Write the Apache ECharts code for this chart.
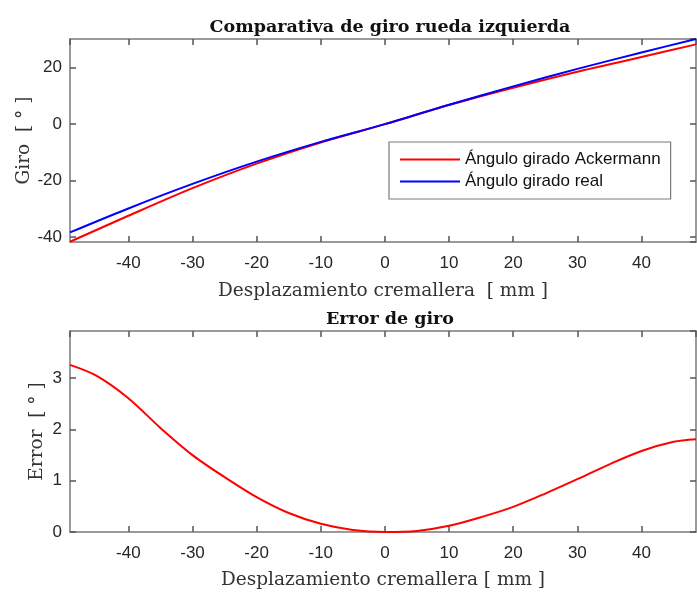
<!DOCTYPE html>
<html>
<head>
<meta charset="utf-8">
<script src="https://cdn.jsdelivr.net/npm/echarts@6/dist/echarts.min.js"></script>
<style>
html,body{margin:0;padding:0;background:#fff;}
#main{width:697px;height:592px;}
</style>
</head>
<body>
<div id="main"></div>
<script>
// ---- data ----
var titleTop = 'Comparativa de giro rueda izquierda';
var titleBottom = 'Error de giro';
var xName = 'Desplazamiento cremallera  [ mm ]';
var xNameBottom = 'Desplazamiento cremallera [ mm ]';
var yNameTop = 'Giro  [ ° ]';
var yNameBottom = 'Error  [ ° ]';
var legendNames = ['Ángulo girado Ackermann', 'Ángulo girado real'];

var xGiro = [-49.1, -40, -30, -20, -10, 0, 10, 20, 30, 40, 48.5];
var giroAckermann = [-41.7, -32.5, -22.7, -14.0, -6.5, 0, 6.8, 12.9, 18.6, 23.8, 28.3];
var giroReal = [-38.4, -29.9, -21.2, -13.3, -6.3, 0, 6.9, 13.4, 19.6, 25.4, 30.2];

var xError = [-49.1, -45, -40, -35, -30, -25, -20, -15, -10, -5, 0, 5, 10, 15, 20, 25, 30, 35, 40, 45, 48.5];
var errorGiro = [3.26, 3.05, 2.61, 2.03, 1.50, 1.07, 0.68, 0.37, 0.16, 0.04, 0, 0.02, 0.12, 0.29, 0.49, 0.75, 1.03, 1.32, 1.58, 1.76, 1.81];

var xMin = -49.1, xMax = 48.5, xSplit = 10;
var yTopMin = -41.8, yTopMax = 30.2, yTopSplit = 4;
var yBotMin = 0, yBotMax = 3.92, yBotSplit = 4;

function pairs(xs, ys) { return xs.map(function (x, i) { return [x, ys[i]]; }); }

var axisGray = '#7a7a7a';
var labelColor = '#262626';
var sans = 'Liberation Sans, Arial, sans-serif';
var serif = 'DejaVu Serif, serif';

function axisBase(mn, mx, split, showLabels, margin, name, gap) {
  return {
    type: 'value', min: mn, max: mx, splitNumber: split,
    name: name || '', nameLocation: 'middle', nameGap: gap || 30,
    nameTextStyle: { fontFamily: serif, fontSize: 18.5, color: '#333' },
    axisLine: { show: true, onZero: false, lineStyle: { color: axisGray, width: 1.5 } },
    axisTick: { show: true, inside: true, length: 6, lineStyle: { color: '#555', width: 1.5 } },
    axisLabel: { show: showLabels, showMinLabel: false, showMaxLabel: false, margin: margin,
      fontFamily: sans, fontSize: 17, color: labelColor },
    splitLine: { show: false }
  };
}
function xAxisDef(gridIndex, position, showLabels, name, gap) {
  var a = axisBase(xMin, xMax, xSplit, showLabels, 13, name, gap);
  a.gridIndex = gridIndex; a.position = position;
  return a;
}
function yAxisDef(gridIndex, position, showLabels, mn, mx, split, name, gap) {
  var a = axisBase(mn, mx, split, showLabels, 8, name, gap);
  a.gridIndex = gridIndex; a.position = position;
  a.nameMoveOverlap = false;
  if (mn === 0) { a.axisLabel.showMinLabel = true; }
  return a;
}

var option = {
  animation: false,
  backgroundColor: '#fff',
  title: [
    { text: titleTop, left: 385, top: 13, textAlign: 'center',
      textStyle: { fontFamily: serif, fontWeight: 'bold', fontSize: 17.5, color: '#111' } },
    { text: titleBottom, left: 385, top: 305, textAlign: 'center',
      textStyle: { fontFamily: serif, fontWeight: 'bold', fontSize: 17.5, color: '#111' } }
  ],
  legend: {
    data: legendNames,
    orient: 'vertical',
    left: 389, top: 142,
    padding: [8, 10, 8, 11],
    icon: 'rect',
    itemWidth: 60, itemHeight: 2, itemGap: 3,
    backgroundColor: '#fff',
    borderColor: axisGray, borderWidth: 1.2,
    textStyle: { fontFamily: sans, fontSize: 17, color: '#111', lineHeight: 19 }
  },
  grid: [
    { left: 70, top: 39, width: 626, height: 203, containLabel: false },
    { left: 70, top: 331, width: 626, height: 201, containLabel: false }
  ],
  xAxis: [
    xAxisDef(0, 'bottom', true, xName, 40),
    xAxisDef(0, 'top', false),
    xAxisDef(1, 'bottom', true, xNameBottom, 39),
    xAxisDef(1, 'top', false)
  ],
  yAxis: [
    yAxisDef(0, 'left', true, yTopMin, yTopMax, yTopSplit, yNameTop, 36),
    yAxisDef(0, 'right', false, yTopMin, yTopMax, yTopSplit),
    yAxisDef(1, 'left', true, yBotMin, yBotMax, yBotSplit, yNameBottom, 23),
    yAxisDef(1, 'right', false, yBotMin, yBotMax, yBotSplit)
  ],
  series: [
    { name: legendNames[0], type: 'line', xAxisIndex: 0, yAxisIndex: 0, data: pairs(xGiro, giroAckermann),
      smooth: 0.3, symbol: 'none', lineStyle: { color: '#ff0000', width: 2 }, itemStyle: { color: '#ff0000' } },
    { name: legendNames[1], type: 'line', xAxisIndex: 0, yAxisIndex: 0, data: pairs(xGiro, giroReal),
      smooth: 0.3, symbol: 'none', lineStyle: { color: '#0000ff', width: 2 }, itemStyle: { color: '#0000ff' } },
    { name: 'Error', type: 'line', xAxisIndex: 2, yAxisIndex: 2, data: pairs(xError, errorGiro),
      smooth: 0.3, symbol: 'none', lineStyle: { color: '#ff0000', width: 2 }, itemStyle: { color: '#ff0000' } }
  ]
};

var chart = echarts.init(document.getElementById('main'), null, { renderer: 'canvas' });
chart.setOption(option);
</script>
</body>
</html>
